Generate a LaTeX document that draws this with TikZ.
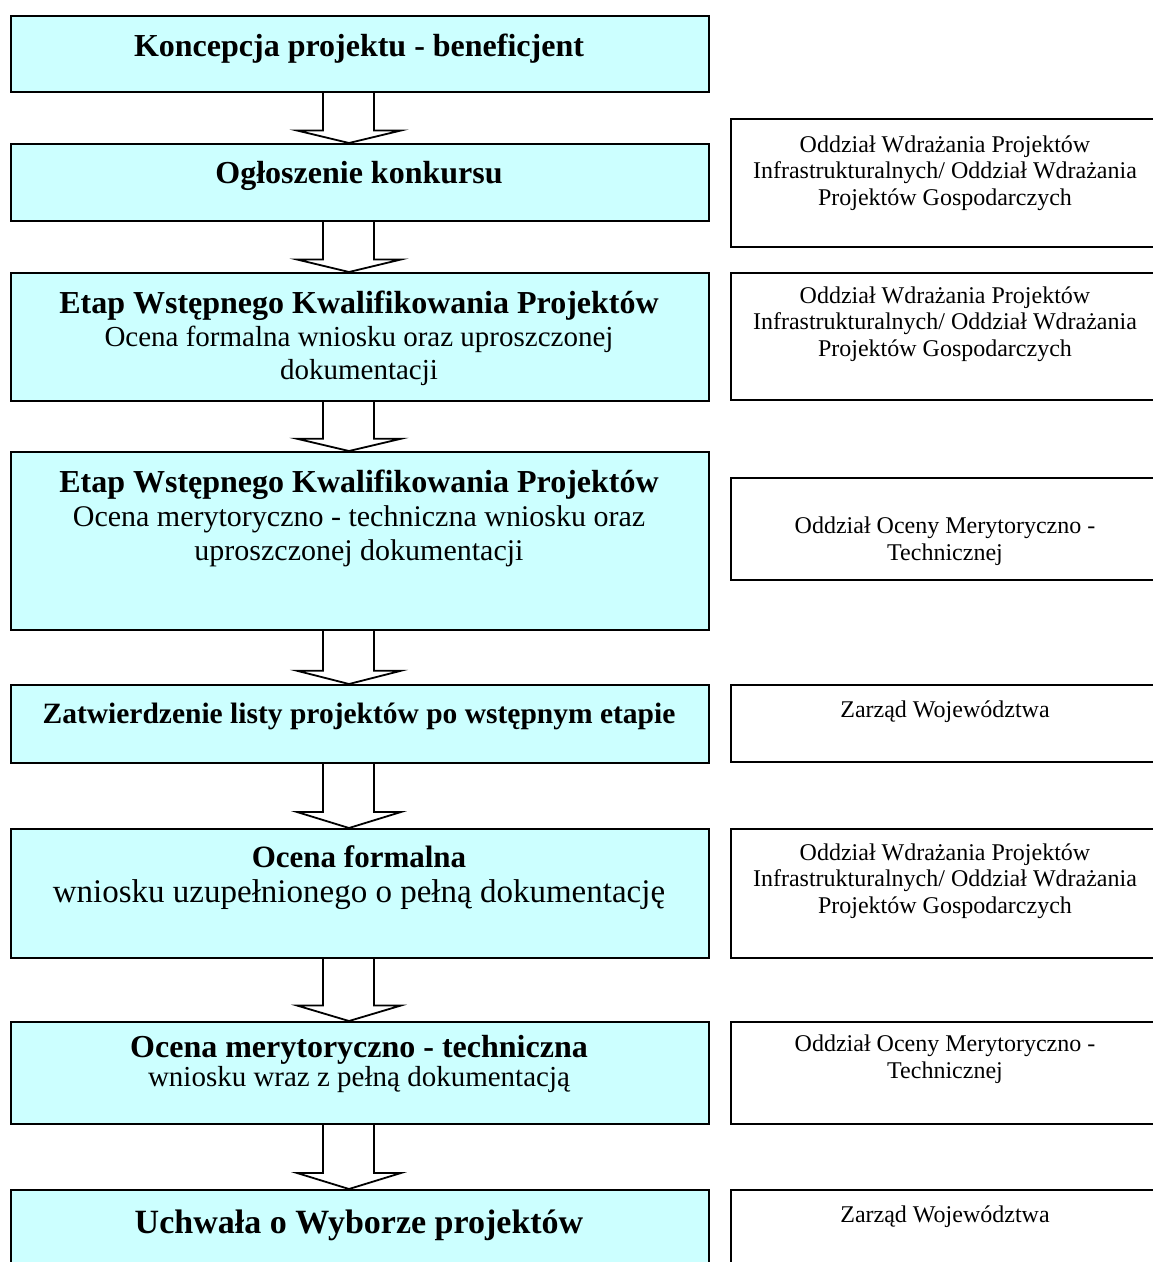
\documentclass[tikz,border=0pt]{standalone}
\usepackage{fontspec}
\setmainfont{Liberation Serif}
\usetikzlibrary{calc}
\definecolor{boxcyan}{RGB}{204,255,255}
\newcommand{\flowarrow}[2]{%
  \draw[blockarrow] let \p1=(#1.south), \p2=(#2.north), \n1={\y2+0.25*(\y1-\y2)} in
    (323pt,\y1) -- (323pt,\n1) -- (297pt,\n1) -- (349pt,\y2) -- (401pt,\n1) -- (374pt,\n1) -- (374pt,\y1);}
\begin{document}
\begin{tikzpicture}[x=1pt,y=-1pt,
  mainbox/.style={draw=black, line width=2pt, fill=boxcyan, anchor=north west, inner sep=0pt, minimum width=698pt},
  sidebox/.style={draw=black, line width=2pt, fill=white, anchor=north west, inner sep=0pt, minimum width=430pt},
  txt/.style={align=center, inner sep=0pt},
  bigb/.style={font=\fontsize{32}{34}\selectfont\bfseries},
  sidetxt/.style={txt, font=\fontsize{24}{26.5}\selectfont},
  blockarrow/.style={draw=black, line width=1.8pt, line join=miter}]
\useasboundingbox (0,0) rectangle (1153,1262);
\clip (0,0) rectangle (1153,1262);
% main boxes
\node[mainbox, minimum height=76pt]  (b1) at (10,15) {};
\node[mainbox, minimum height=77pt]  (b2) at (10,143) {};
\node[mainbox, minimum height=128pt] (b3) at (10,272) {};
\node[mainbox, minimum height=178pt] (b4) at (10,451) {};
\node[mainbox, minimum height=78pt]  (b5) at (10,684) {};
\node[mainbox, minimum height=129pt] (b6) at (10,828) {};
\node[mainbox, minimum height=102pt] (b7) at (10,1021) {};
\node[mainbox, minimum height=100pt] (b8) at (10,1189) {};
% side boxes
\node[sidebox, minimum height=128pt] (r1) at (730,118) {};
\node[sidebox, minimum height=127pt] (r2) at (730,272) {};
\node[sidebox, minimum height=102pt] (r3) at (730,477) {};
\node[sidebox, minimum height=77pt]  (r4) at (730,684) {};
\node[sidebox, minimum height=129pt] (r5) at (730,828) {};
\node[sidebox, minimum height=102pt] (r6) at (730,1021) {};
\node[sidebox, minimum height=100pt] (r7) at (730,1189) {};
% main texts
\node[txt, bigb] (t1) at (359,49) {Koncepcja projektu - beneficjent};
\node[txt, bigb] (t2) at (359,176) {Ogłoszenie konkursu};
\node[txt, font=\fontsize{29}{33}\selectfont] (t3) at (359,338)
  {{\fontsize{32}{33}\selectfont\bfseries Etap Wstępnego Kwalifikowania Projektów}\\
   Ocena formalna wniosku oraz uproszczonej\\ dokumentacji};
\node[txt, font=\fontsize{30}{34}\selectfont] (t4) at (359,518)
  {{\fontsize{32}{34}\selectfont\bfseries Etap Wstępnego Kwalifikowania Projektów}\\
   Ocena merytoryczno - techniczna wniosku oraz\\ uproszczonej dokumentacji};
\node[txt, font=\fontsize{29.5}{34}\selectfont\bfseries] (t5) at (359,716) {Zatwierdzenie listy projektów po wstępnym etapie};
\node[txt, font=\fontsize{33}{35}\selectfont] (t6) at (359,878)
  {{\fontsize{31}{35}\selectfont\bfseries Ocena formalna}\\
   wniosku uzupełnionego o pełną dokumentację};
\node[txt, font=\fontsize{29}{29}\selectfont] (t7) at (359,1064)
  {{\fontsize{32}{29}\selectfont\bfseries Ocena merytoryczno - techniczna}\\
   wniosku wraz z pełną dokumentacją};
\node[txt, font=\fontsize{34}{36}\selectfont\bfseries] (t8) at (359,1225) {Uchwała o Wyborze projektów};
% side texts
\node[sidetxt] (s1) at (945,173) {Oddział Wdrażania Projektów\\ Infrastrukturalnych/ Oddział Wdrażania\\ Projektów Gospodarczych};
\node[sidetxt] (s2) at (945,324) {Oddział Wdrażania Projektów\\ Infrastrukturalnych/ Oddział Wdrażania\\ Projektów Gospodarczych};
\node[sidetxt] (s3) at (945,541) {Oddział Oceny Merytoryczno -\\ Technicznej};
\node[sidetxt] (s4) at (945,712) {Zarząd Województwa};
\node[sidetxt] (s5) at (945,881) {Oddział Wdrażania Projektów\\ Infrastrukturalnych/ Oddział Wdrażania\\ Projektów Gospodarczych};
\node[sidetxt] (s6) at (945,1059) {Oddział Oceny Merytoryczno -\\ Technicznej};
\node[sidetxt] (s7) at (945,1217) {Zarząd Województwa};
% arrows
\flowarrow{b1}{b2}
\flowarrow{b2}{b3}
\flowarrow{b3}{b4}
\flowarrow{b4}{b5}
\flowarrow{b5}{b6}
\flowarrow{b6}{b7}
\flowarrow{b7}{b8}
\end{tikzpicture}
\end{document}
